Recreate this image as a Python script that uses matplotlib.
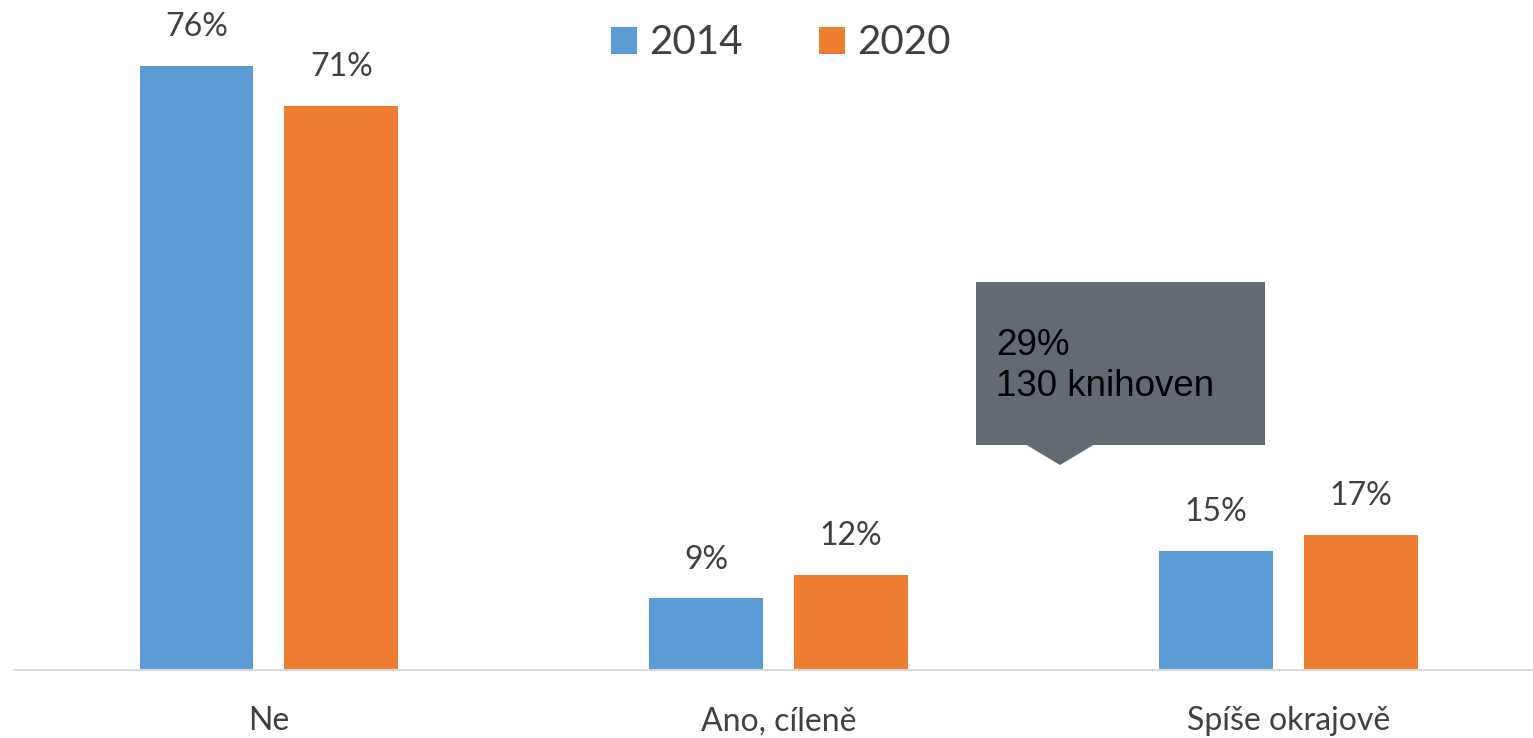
import matplotlib
matplotlib.use("Agg")
import matplotlib.pyplot as plt
from matplotlib.patches import Rectangle, Polygon
import numpy as np

categories = ["Ne", "Ano, cíleně", "Spíše okrajově"]
years = ["2014", "2020"]
vals_2014 = [76, 9, 15]
vals_2020 = [71, 12, 17]
tip_text = "29%\n130 knihoven"

blue = "#5b9bd5"
orange = "#ed7d31"
txt = "#404040"

W, H = 1533, 738
fig = plt.figure(figsize=(W / 100, H / 100), dpi=100)
ax = fig.add_axes([14 / W, (H - 670) / H, (W - 14) / W, 670 / H])

x = np.arange(len(categories))
w = 0.2235
off = 0.142
b1 = ax.bar(x - off, vals_2014, w, color=blue, label=years[0])
b2 = ax.bar(x + off, vals_2020, w, color=orange, label=years[1])

for bars in (b1, b2):
    for r in bars:
        ax.annotate(f"{r.get_height():.0f}%", (r.get_x() + r.get_width() / 2, r.get_height()),
                    xytext=(0, 17), textcoords="offset points", ha="center", va="bottom",
                    fontsize=23, color=txt, family="Lato")

ax.set_xlim(-0.5, 2.48)
ax.set_ylim(0, 84.3)
ax.set_yticks([])
ax.set_xticks(x)
ax.set_xticklabels(categories, fontsize=23, color=txt, family="Lato")
ax.tick_params(axis="x", length=0, pad=26)
for s in ("top", "right", "left"):
    ax.spines[s].set_visible(False)
ax.spines["bottom"].set_color("#d9d9d9")
ax.spines["bottom"].set_linewidth(1.5)

leg = fig.legend(loc="center", bbox_to_anchor=(781 / W, 1 - 43 / H), ncol=2, frameon=False,
                 prop={"family": "Lato", "size": 29}, handlelength=0.65, handleheight=0.65,
                 handletextpad=0.3, columnspacing=1.9)
for t in leg.get_texts():
    t.set_color(txt)

# tooltip box
tf = fig.transFigure
def fx(px):
    return px / W
def fy(py):
    return 1 - py / H
gray = "#646a72"
fig.patches.append(Rectangle((fx(976), fy(445)), fx(1265) - fx(976), fy(282) - fy(445),
                             transform=tf, facecolor=gray, edgecolor="none"))
fig.patches.append(Polygon([(fx(1025), fy(444)), (fx(1095), fy(444)), (fx(1060), fy(465))],
                           closed=True, transform=tf, facecolor=gray, edgecolor="none"))
fig.text(fx(996), fy(366), tip_text, ha="left", va="center", fontsize=26.5,
         family="Liberation Sans", color="black", linespacing=1.2)

fig.savefig("out.png", dpi=100)
